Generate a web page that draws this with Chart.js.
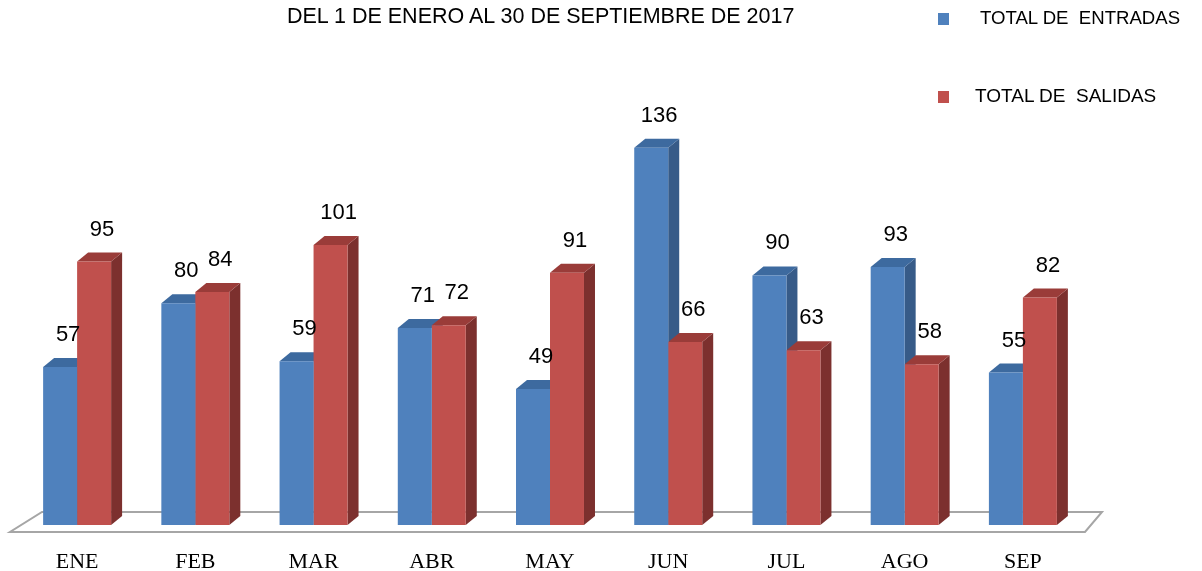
<!DOCTYPE html>
<html>
<head>
<meta charset="utf-8">
<script src="https://cdn.jsdelivr.net/npm/chart.js@4.4.0/dist/chart.umd.min.js"></script>
<style>
  body { margin: 0; background: #fff; }
  #wrap { position: relative; width: 1202px; height: 571px; }
  .txt { position: absolute; font-family: "Liberation Sans", Arial, sans-serif; color: #000; white-space: pre; }
  #title { left: 287px; top: 4px; font-size: 21.5px; }
  .key { position: absolute; width: 11px; height: 12px; }
</style>
</head>
<body>
<div id="wrap">
  <canvas id="myChart"></canvas>
  <div id="title" class="txt">DEL 1 DE ENERO AL 30 DE SEPTIEMBRE DE 2017</div>
  <div class="key" style="left:938px; top:13px; background:#4F81BD;"></div>
  <div class="txt" style="left:980px; top:7px; font-size:18.6px;">TOTAL DE  ENTRADAS</div>
  <div class="key" style="left:938px; top:91px; background:#C0504D;"></div>
  <div class="txt" style="left:975px; top:85px; font-size:19px;">TOTAL DE  SALIDAS</div>
</div>
<script>
var meses = ["ENE", "FEB", "MAR", "ABR", "MAY", "JUN", "JUL", "AGO", "SEP"];
var entradas = [57, 80, 59, 71, 49, 136, 90, 93, 55];
var salidas = [95, 84, 101, 72, 91, 66, 63, 58, 82];

// colores de las caras: frente, arriba, lado
var caras = [
  { front: "#4F81BD", top: "#3D6A9F", side: "#375B88" },
  { front: "#C0504D", top: "#9A3C39", side: "#7C302E" }
];
var dx = 11, dy = 9;

var bars3d = {
  id: "bars3d",
  beforeDatasetsDraw: function(chart) {
    var ctx = chart.ctx;
    var area = chart.chartArea;
    var base = area.bottom;

    // piso
    ctx.save();
    ctx.strokeStyle = "#A6A6A6";
    ctx.lineWidth = 2;
    ctx.beginPath();
    ctx.moveTo(area.left - 8, base + 7);
    ctx.lineTo(area.right + 3, base + 7);
    ctx.lineTo(area.right + 20, base - 13);
    ctx.lineTo(area.left + 24, base - 13);
    ctx.closePath();
    ctx.stroke();
    ctx.restore();

    // lados y techos de cada barra, detras de los frentes
    for (var i = 0; i < meses.length; i++) {
      chart.data.datasets.forEach(function(ds, d) {
        var bar = chart.getDatasetMeta(d).data[i];
        var left = bar.x - bar.width / 2;
        var right = bar.x + bar.width / 2;
        var top = bar.y;
        var b = bar.base;
        ctx.save();
        ctx.fillStyle = caras[d].side;
        ctx.beginPath();
        ctx.moveTo(right, top);
        ctx.lineTo(right + dx, top - dy);
        ctx.lineTo(right + dx, b - dy);
        ctx.lineTo(right, b);
        ctx.closePath();
        ctx.fill();
        ctx.fillStyle = caras[d].top;
        ctx.beginPath();
        ctx.moveTo(left, top);
        ctx.lineTo(left + dx, top - dy);
        ctx.lineTo(right + dx, top - dy);
        ctx.lineTo(right, top);
        ctx.closePath();
        ctx.fill();
        ctx.restore();
      });
    }
  },
  afterDatasetsDraw: function(chart) {
    var ctx = chart.ctx;
    ctx.save();
    ctx.fillStyle = "#000";
    ctx.font = "22px 'Liberation Sans', Arial, sans-serif";
    ctx.textAlign = "center";
    ctx.textBaseline = "middle";
    chart.data.datasets.forEach(function(ds, d) {
      chart.getDatasetMeta(d).data.forEach(function(bar, i) {
        ctx.fillText(ds.data[i], bar.x + 8, bar.y - 32);
      });
    });
    ctx.restore();
  }
};

var ctx = document.getElementById("myChart");

var myBarChart = new Chart(ctx, {
  type: "bar",
  data: {
    labels: meses,
    datasets: [
      { label: "TOTAL DE  ENTRADAS", data: entradas, backgroundColor: caras[0].front },
      { label: "TOTAL DE  SALIDAS", data: salidas, backgroundColor: caras[1].front }
    ]
  },
  options: {
    responsive: true,
    maintainAspectRatio: false,
    animation: false,
    layout: { padding: { left: 18, right: 120, top: 109, bottom: -20 } },
    datasets: { bar: { barPercentage: 1, categoryPercentage: 0.575 } },
    plugins: { legend: { display: false }, tooltip: { enabled: false } },
    scales: {
      x: {
        grid: { display: false },
        border: { display: false },
        ticks: {
          color: "#000",
          padding: 18,
          font: { family: "'Liberation Serif', 'Times New Roman', serif", size: 22, lineHeight: 1 }
        }
      },
      y: { display: false, min: 0, max: 150 }
    }
  },
  plugins: [bars3d]
});
</script>
</body>
</html>
